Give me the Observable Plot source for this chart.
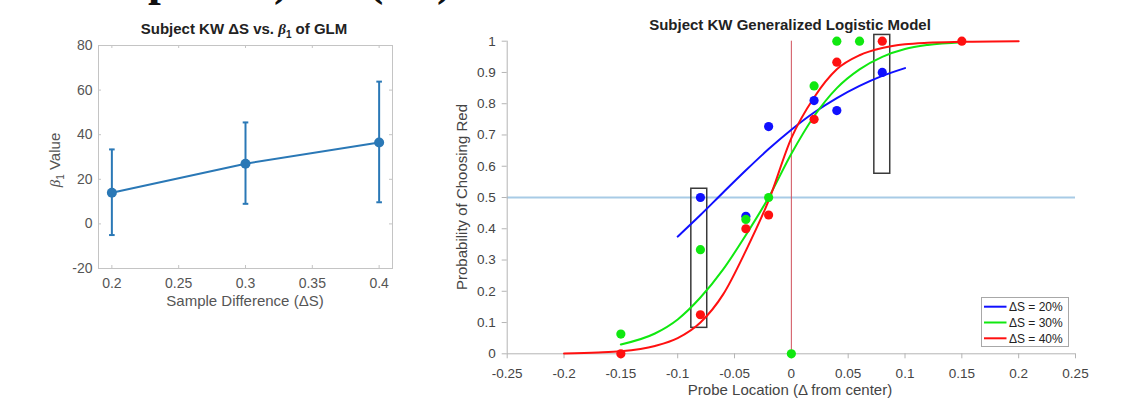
<!DOCTYPE html>
<html><head><meta charset="utf-8">
<script src="https://cdn.jsdelivr.net/npm/d3@7"></script>
<script src="https://cdn.jsdelivr.net/npm/@observablehq/plot@0.6"></script>
<style>
html,body{margin:0;padding:0;background:#fff;}
#wrap{position:relative;width:1134px;height:399px;overflow:hidden;background:#fff;font-family:"Liberation Sans",Arial,sans-serif;}
#wrap > svg{position:absolute;}
</style></head><body><div id="wrap"></div>
<script>
// ---------- Left panel data ----------
const sampleDiff = [0.2, 0.3, 0.4];
const beta1Mean = [14.0, 27.0, 36.5];
const beta1Low  = [-5.0, 9.0, 9.7];
const beta1High = [33.4, 45.5, 63.8];
const leftXTicks = [0.2, 0.25, 0.3, 0.35, 0.4];
const leftYTicks = [-20, 0, 20, 40, 60, 80];

// ---------- Right panel data ----------
const seriesNames  = ["ΔS = 20%", "ΔS = 30%", "ΔS = 40%"];
const seriesColors = ["#1010ff", "#10e810", "#ff1010"];
// observed proportions
const obsX20 = [-0.08, -0.04, -0.02, 0.02, 0.04, 0.08];
const obsY20 = [0.50, 0.44, 0.727, 0.81, 0.778, 0.90];
const obsX30 = [-0.15, -0.08, -0.04, -0.02, 0.0, 0.02, 0.04, 0.06];
const obsY30 = [0.063, 0.333, 0.43, 0.50, 0.0, 0.857, 1.0, 1.0];
const obsX40 = [-0.15, -0.08, -0.04, -0.02, 0.02, 0.04, 0.08, 0.15];
const obsY40 = [0.0, 0.125, 0.40, 0.444, 0.75, 0.933, 1.0, 1.0];
// fitted curves
const fitX20 = [-0.1, -0.08, -0.06, -0.04, -0.02, 0.0, 0.02, 0.04, 0.06, 0.08, 0.1];
const fitY20 = [0.375, 0.444, 0.516, 0.587, 0.655, 0.717, 0.772, 0.818, 0.857, 0.889, 0.914];
const fitX30 = [-0.15, -0.12, -0.1, -0.08, -0.06, -0.04, -0.02, 0.0, 0.02, 0.04, 0.06, 0.08, 0.1, 0.12, 0.15];
const fitY30 = [0.03, 0.065, 0.11, 0.18, 0.27, 0.38, 0.50, 0.64, 0.76, 0.85, 0.91, 0.95, 0.975, 0.988, 0.997];
const fitX40 = [-0.2, -0.17, -0.15, -0.12, -0.1, -0.08, -0.06, -0.04, -0.02, 0.0, 0.02, 0.04, 0.06, 0.08, 0.1, 0.12, 0.15, 0.2];
const fitY40 = [0.001, 0.004, 0.008, 0.025, 0.05, 0.10, 0.19, 0.33, 0.49, 0.69, 0.82, 0.91, 0.955, 0.978, 0.99, 0.995, 0.998, 1.0];
// highlight boxes
const boxX1 = [-0.088, 0.073];
const boxX2 = [-0.074, 0.087];
const boxY1 = [0.083, 0.576];
const boxY2 = [0.528, 1.02];
const rightXTicks = [-0.25, -0.2, -0.15, -0.1, -0.05, 0, 0.05, 0.1, 0.15, 0.2, 0.25];
const rightYTicks = [0, 0.1, 0.2, 0.3, 0.4, 0.5, 0.6, 0.7, 0.8, 0.9, 1];

// ---------- build tables ----------
const leftData = sampleDiff.map((x, i) => ({x, y: beta1Mean[i], lo: beta1Low[i], hi: beta1High[i]}));
const obs = [[obsX20, obsY20], [obsX30, obsY30], [obsX40, obsY40]];
const fits = [[fitX20, fitY20], [fitX30, fitY30], [fitX40, fitY40]];
const points = obs.flatMap(([xs, ys], s) => xs.map((x, i) => ({x, y: ys[i], s, color: seriesColors[s]})));
const curves = fits.flatMap(([xs, ys], s) => xs.map((x, i) => ({x, y: ys[i], s, color: seriesColors[s]})));
const boxes = boxX1.map((x1, i) => ({x1, x2: boxX2[i], y1: boxY1[i], y2: boxY2[i]}));

const font = '"Liberation Sans", Arial, sans-serif';
const wrap = document.getElementById("wrap");

// ---------- Left chart ----------
const blueL = "#2a78b6";
const grayL = "#c4c4c4";
const capSymbol = {draw(ctx, size) { const r = Math.sqrt(size / Math.PI); ctx.moveTo(-r, 0); ctx.lineTo(r, 0); }};
const left = Plot.plot({
  width: 420, height: 320,
  marginLeft: 98, marginRight: 28, marginTop: 45, marginBottom: 52,
  x: {domain: [0.19, 0.41]},
  y: {domain: [-20, 80]},
  style: {fontFamily: font, fontSize: "14px", color: "#555", background: "transparent", overflow: "visible"},
  marks: [
    Plot.frame({stroke: grayL}),
    Plot.tickX(leftXTicks, {x: d => d, insetTop: 220, stroke: grayL}),
    Plot.tickX(leftXTicks, {x: d => d, insetBottom: 220, stroke: grayL}),
    Plot.tickY(leftYTicks, {y: d => d, insetRight: 291, stroke: grayL}),
    Plot.tickY(leftYTicks, {y: d => d, insetLeft: 291, stroke: grayL}),
    Plot.axisX({ticks: leftXTicks, tickFormat: d => String(d), tickSize: 0, tickPadding: 10, label: null}),
    Plot.axisY({ticks: leftYTicks, tickFormat: d => String(d), tickSize: 0, tickPadding: 6, label: null}),
    Plot.ruleX(leftData, {x: "x", y1: "lo", y2: "hi", stroke: blueL, strokeWidth: 2}),
    Plot.dot(leftData, {x: "x", y: "lo", symbol: capSymbol, r: 2.8, stroke: blueL, strokeWidth: 2, fill: "none"}),
    Plot.dot(leftData, {x: "x", y: "hi", symbol: capSymbol, r: 2.8, stroke: blueL, strokeWidth: 2, fill: "none"}),
    Plot.line(leftData, {x: "x", y: "y", stroke: blueL, strokeWidth: 2}),
    Plot.dot(leftData, {x: "x", y: "y", r: 5, fill: blueL, stroke: "none"})
  ]
});
left.style.left = "0px"; left.style.top = "0px";
wrap.appendChild(left);

// ---------- Right chart ----------
const axisGray = "#b4b4b4";
const right = Plot.plot({
  width: 694, height: 399,
  marginLeft: 66.7, marginRight: 59, marginTop: 40.7, marginBottom: 45.7,
  x: {domain: [-0.25, 0.25]},
  y: {domain: [0, 1]},
  color: {type: "identity"},
  style: {fontFamily: font, fontSize: "13.5px", color: "#444", background: "transparent", overflow: "visible"},
  marks: [
    Plot.ruleY([0.5], {stroke: "#a8cbe6", strokeWidth: 2}),
    Plot.ruleX([0], {y1: 0, y2: 1, stroke: "#d0505a", strokeWidth: 1}),
    Plot.ruleY([0], {stroke: axisGray}),
    Plot.ruleX([-0.25], {stroke: axisGray}),
    Plot.axisX({ticks: rightXTicks, tickFormat: d => String(d), tickSize: 5, tickPadding: 10, stroke: axisGray, label: null}),
    Plot.axisY({ticks: rightYTicks, tickFormat: d => String(d), tickSize: 5, tickPadding: 6.5, stroke: axisGray, label: null}),
    Plot.rect(boxes, {x1: "x1", x2: "x2", y1: "y1", y2: "y2", stroke: "#3a3a3a", strokeWidth: 1.5, fill: "none"}),
    Plot.line(curves, {x: "x", y: "y", z: "s", stroke: "color", strokeWidth: 2, curve: "monotone-x"}),
    Plot.dot(points, {x: "x", y: "y", fill: "color", r: 4.6, stroke: "none"})
  ]
});
right.style.left = "440px"; right.style.top = "0px";
wrap.appendChild(right);

// ---------- Text overlay (titles, labels, legend) ----------
const ov = d3.create("svg").attr("width", 1134).attr("height", 399)
  .style("left", "0px").style("top", "0px").style("pointer-events", "none")
  .attr("font-family", font);

// cut-off line of document text at the very top (only descenders visible)
const topGlyphs = [["p", 148], [")", 274], ["(", 368], [")", 437]];
ov.append("g").attr("font-family", '"Liberation Serif", "DejaVu Serif", serif').attr("font-size", 46)
  .attr("font-weight", "bold").attr("fill", "#111")
  .selectAll("text").data(topGlyphs).join("text").attr("x", d => d[1]).attr("y", -5).text(d => d[0]);

// left title
const lt = ov.append("text").attr("x", 244).attr("y", 33.5).attr("text-anchor", "middle")
  .attr("font-weight", "bold").attr("font-size", 15).attr("fill", "#222");
lt.append("tspan").text("Subject KW ΔS vs. ");
lt.append("tspan").attr("font-style", "italic").attr("font-family", '"Liberation Serif", serif').text("β");
lt.append("tspan").attr("font-size", 10).attr("dy", 4).text("1");
lt.append("tspan").attr("dy", -4).text(" of GLM");

// left x label
ov.append("text").attr("x", 245).attr("y", 306).attr("text-anchor", "middle")
  .attr("font-size", 15).attr("fill", "#555").text("Sample Difference (ΔS)");
// left y label
const ly = ov.append("text").attr("transform", "translate(60,160) rotate(-90)").attr("text-anchor", "middle")
  .attr("font-size", 15).attr("fill", "#555");
ly.append("tspan").attr("font-style", "italic").attr("font-family", '"Liberation Serif", serif').text("β");
ly.append("tspan").attr("font-size", 10).attr("dy", 4).text("1");
ly.append("tspan").attr("dy", -4).text(" Value");

// right title
ov.append("text").attr("x", 790).attr("y", 30).attr("text-anchor", "middle")
  .attr("font-weight", "bold").attr("font-size", 15).attr("fill", "#222").text("Subject KW Generalized Logistic Model");
// right x label
ov.append("text").attr("x", 790).attr("y", 395).attr("text-anchor", "middle")
  .attr("font-size", 15).attr("fill", "#444").text("Probe Location (Δ from center)");
// right y label
ov.append("text").attr("transform", "translate(467,197) rotate(-90)").attr("text-anchor", "middle")
  .attr("font-size", 15).attr("fill", "#444").text("Probability of Choosing Red");

// legend
const lg = ov.append("g").attr("transform", "translate(981.5,297.5)");
lg.append("rect").attr("width", 87).attr("height", 49).attr("fill", "#fff").attr("stroke", "#a8a8a8");
const rows = lg.selectAll("g.row").data(seriesNames).join("g").attr("class", "row")
  .attr("transform", (d, i) => `translate(0,${9.2 + i * 15.8})`);
rows.append("line").attr("x1", 2.5).attr("x2", 25).attr("stroke", (d, i) => seriesColors[i]).attr("stroke-width", 2);
rows.append("text").attr("x", 27.5).attr("y", 4.3).attr("font-size", 12).attr("fill", "#222").text(d => d);

wrap.appendChild(ov.node());
</script>
</body></html>
